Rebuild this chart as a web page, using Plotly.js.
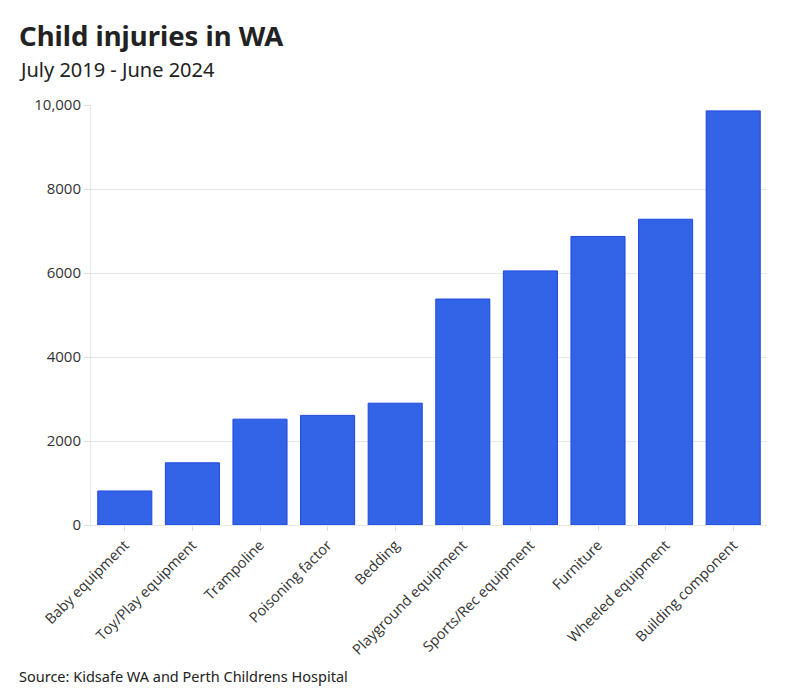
<!DOCTYPE html>
<html>
<head>
<meta charset="utf-8">
<script src="https://cdn.plot.ly/plotly-3.0.1.min.js"></script>
<style>
  html, body { margin: 0; padding: 0; background: #fff; }
  #chart { width: 791px; height: 690px; }
</style>
</head>
<body>
<div id="chart"></div>
<script>
// Child injury counts by product category, WA, July 2019 - June 2024
const categories = [
  "Baby equipment", "Toy/Play equipment", "Trampoline", "Poisoning factor",
  "Bedding", "Playground equipment", "Sports/Rec equipment", "Furniture",
  "Wheeled equipment", "Building component"
];
const injuries = [810, 1480, 2520, 2610, 2900, 5380, 6050, 6870, 7280, 9860];
const yTickVals = [0, 2000, 4000, 6000, 8000, 10000];
const yTickText = ["0", "2000", "4000", "6000", "8000", "10,000"];

const W = 791, H = 690;
const M = { l: 91, r: 24, t: 105, b: 165 };
const pw = W - M.l - M.r, ph = H - M.t - M.b;
const px = x => (x - M.l) / pw;          // container px -> paper x
const py = y => (H - M.b - y) / ph;      // container px -> paper y

const font = "'Open Sans', 'Noto Sans', sans-serif";
const headFont = "'Noto Sans', 'Open Sans', sans-serif";

const trace = {
  type: "bar",
  x: categories,
  y: injuries,
  marker: {
    color: "#3363e6",
    line: { color: "#1f48e0", width: 1 }
  },
  hoverinfo: "x+y"
};

const layout = {
  width: W, height: H,
  margin: M,
  paper_bgcolor: "#ffffff",
  plot_bgcolor: "#ffffff",
  showlegend: false,
  bargap: 0.2,
  font: { family: font, color: "#333333", size: 14 },
  xaxis: {
    tickangle: -45,
    ticks: "outside",
    ticklen: 5,
    tickcolor: "#dddddd",
    tickfont: { family: font, size: 14.5, color: "#333333" },
    showgrid: false,
    showline: true,
    linecolor: "#e6e6e6",
    linewidth: 1
  },
  yaxis: {
    range: [0, 10000],
    tickvals: yTickVals,
    ticktext: yTickText,
    ticks: "outside",
    ticklen: 6,
    tickcolor: "#dddddd",
    tickfont: { family: font, size: 15, color: "#333333" },
    gridcolor: "#e6e6e6",
    zeroline: false,
    showline: true,
    linecolor: "#e6e6e6",
    linewidth: 1
  },
  annotations: [
    {
      text: "<b>Child injuries in WA</b>",
      xref: "paper", yref: "paper",
      x: px(17), y: py(56), xanchor: "left", yanchor: "bottom",
      showarrow: false,
      font: { family: headFont, size: 27.5, color: "#222222" }
    },
    {
      text: "July 2019 - June 2024",
      xref: "paper", yref: "paper",
      x: px(17), y: py(85), xanchor: "left", yanchor: "bottom",
      showarrow: false,
      font: { family: headFont, size: 20, color: "#222222" }
    },
    {
      text: "Source: Kidsafe WA and Perth Childrens Hospital",
      xref: "paper", yref: "paper",
      x: px(17), y: py(688), xanchor: "left", yanchor: "bottom",
      showarrow: false,
      font: { family: headFont, size: 14.5, color: "#222222" }
    }
  ]
};

Plotly.newPlot("chart", [trace], layout, { displayModeBar: false, staticPlot: true });
</script>
</body>
</html>
